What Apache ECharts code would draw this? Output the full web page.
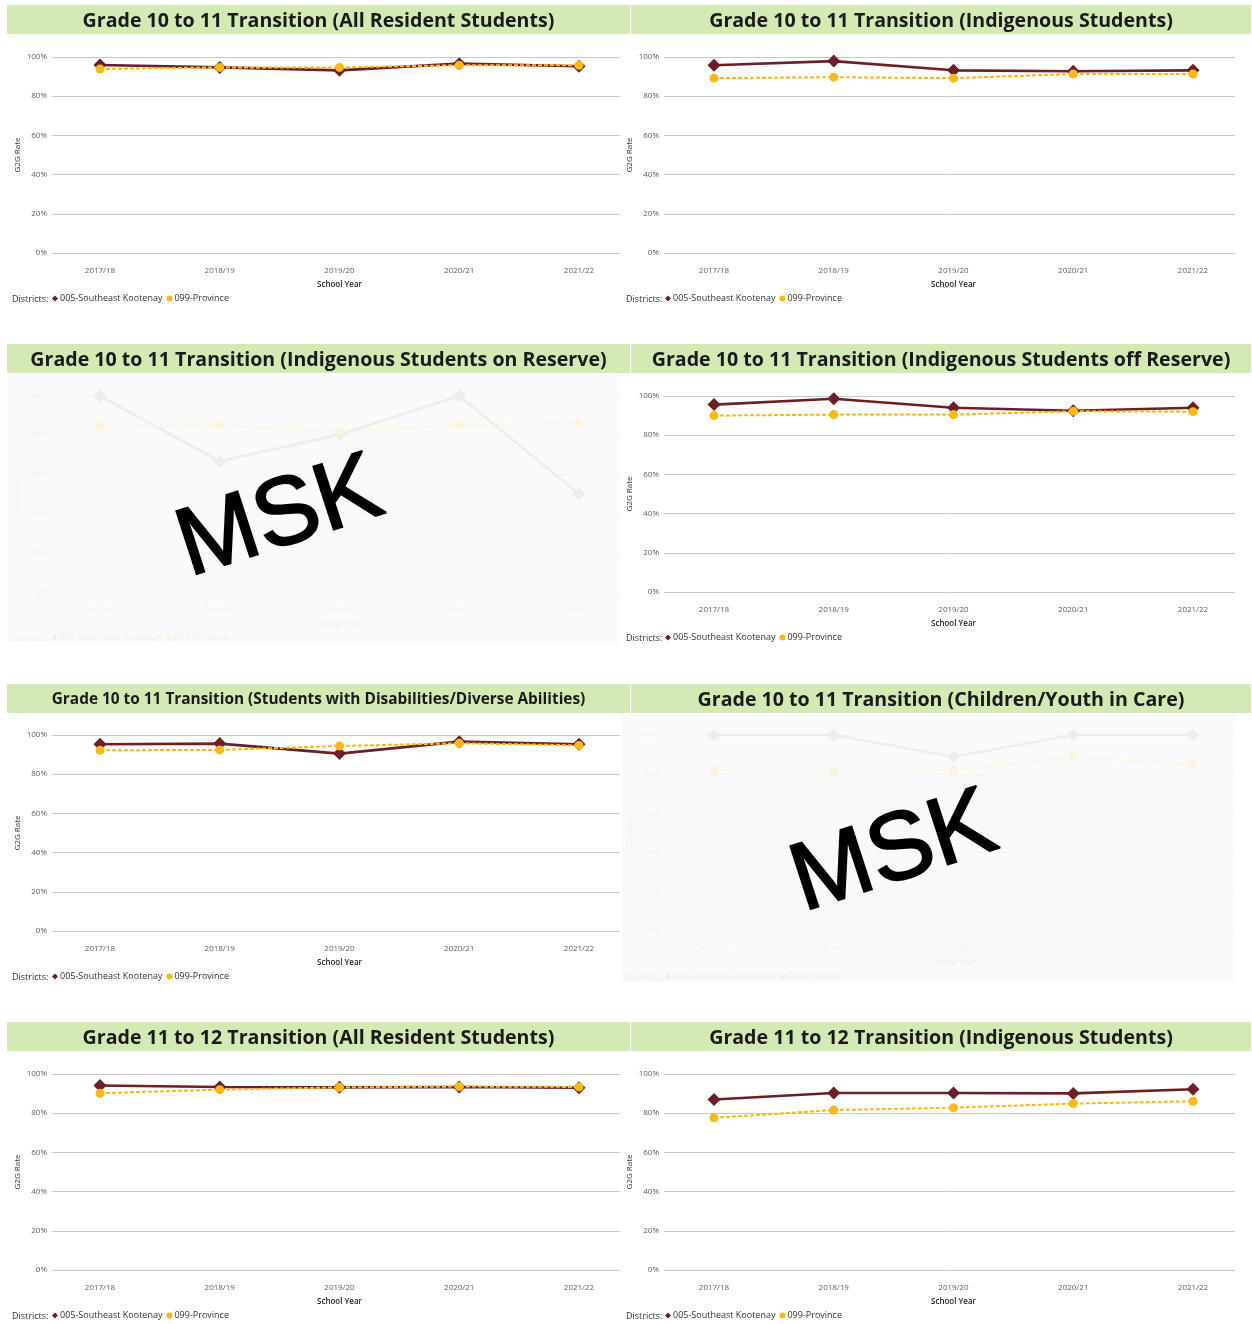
<!DOCTYPE html>
<html>
<head>
<meta charset="utf-8">
<script src="https://cdn.jsdelivr.net/npm/echarts@6/dist/echarts.min.js"></script>
<style>
html,body{margin:0;padding:0;background:#fff;}
#chart{width:1252px;height:1324px;}
</style>
</head>
<body>
<div id="chart"></div>
<script>
// ---- data ----
const years = ['2017/18', '2018/19', '2019/20', '2020/21', '2021/22'];
const yTicks = [0, 20, 40, 60, 80, 100];
const legendNames = ['005-Southeast Kootenay', '099-Province'];

const titles = [
  'Grade 10 to 11 Transition (All Resident Students)',
  'Grade 10 to 11 Transition (Indigenous Students)',
  'Grade 10 to 11 Transition (Indigenous Students on Reserve)',
  'Grade 10 to 11 Transition (Indigenous Students off Reserve)',
  'Grade 10 to 11 Transition (Students with Disabilities/Diverse Abilities)',
  'Grade 10 to 11 Transition (Children/Youth in Care)',
  'Grade 11 to 12 Transition (All Resident Students)',
  'Grade 11 to 12 Transition (Indigenous Students)'
];

const districtAll1011 = [95.9, 94.7, 93.2, 96.6, 95.3];
const provinceAll1011 = [93.9, 94.7, 94.7, 95.8, 95.8];
const districtIndig1011 = [95.8, 97.9, 93.2, 92.7, 93.2];
const provinceIndig1011 = [89.2, 89.7, 89.2, 91.3, 91.3];
const districtOnRes1011 = [100, 66.7, 80.3, 100, 50.0];
const provinceOnRes1011 = [84.3, 85.0, 81.7, 85.0, 86.3];
const districtOffRes1011 = [95.6, 98.6, 94.0, 92.5, 94.0];
const provinceOffRes1011 = [90.0, 90.5, 90.5, 92.2, 92.0];
const districtDis1011 = [95.3, 95.6, 90.5, 96.6, 95.3];
const provinceDis1011 = [92.2, 92.4, 94.4, 95.8, 94.7];
const districtCare1011 = [100, 100, 88.9, 100, 100];
const provinceCare1011 = [82.1, 81.1, 82.1, 88.9, 84.7];
const districtAll1112 = [94.1, 93.4, 93.2, 93.4, 93.0];
const provinceAll1112 = [90.2, 92.0, 93.2, 93.6, 93.4];
const districtIndig1112 = [87.0, 90.3, 90.3, 90.1, 92.2];
const provinceIndig1112 = [77.7, 81.6, 82.8, 84.9, 86.1];

const panels = [
  { title: titles[0], district: districtAll1011, province: provinceAll1011, masked: false, fs: 19.6 },
  { title: titles[1], district: districtIndig1011, province: provinceIndig1011, masked: false, fs: 19.6 },
  { title: titles[2], district: districtOnRes1011, province: provinceOnRes1011, masked: true, fs: 19.6 },
  { title: titles[3], district: districtOffRes1011, province: provinceOffRes1011, masked: false, fs: 19.6 },
  { title: titles[4], district: districtDis1011, province: provinceDis1011, masked: false, fs: 15.4 },
  { title: titles[5], district: districtCare1011, province: provinceCare1011, masked: true, fs: 19.6 },
  { title: titles[6], district: districtAll1112, province: provinceAll1112, masked: false, fs: 19.6 },
  { title: titles[7], district: districtIndig1112, province: provinceIndig1112, masked: false, fs: 19.6 }
];

// ---- layout ----
const FONT = '"Open Sans", "Noto Sans", sans-serif';
const DARK = '#6d1f27';
const GOLD = '#fdb813';
const DARK_FADE = '#eeeded';
const GOLD_FADE = '#fcf3dc';
const rowTop = [57, 396, 735, 1074];
const barTop = [5, 344, 684, 1022];
const PH = 196;

const grid = [], xAxis = [], yAxis = [], series = [], legend = [], graphic = [];

panels.forEach((p, i) => {
  const col = i % 2, row = Math.floor(i / 2);
  const top = rowTop[row];
  const gl = col ? 664 : 52, gr = col ? 1235 : 620;
  const dl = col ? 714 : 100, dr = col ? 1193 : 579;
  const fade = p.masked;
  const labelColor = fade ? '#efefef' : '#605e5c';
  const nameColor = fade ? '#efefef' : '#333333';
  const splitColor = fade ? '#f4f4f4' : '#c8c8c8';

  // title bar
  const bx = col ? 631 : 7, bw = col ? 620 : 623;
  graphic.push({
    type: 'rect', shape: { x: bx, y: barTop[row], width: bw, height: 29 },
    style: { fill: '#d4eab4' }, z: -5, silent: true
  });
  graphic.push({
    type: 'text', x: bx + bw / 2, y: barTop[row] + 16,
    style: { text: p.title, fill: '#1a1a1a', font: 'bold ' + p.fs + 'px ' + FONT,
             align: 'center', verticalAlign: 'middle' }, z: 5, silent: true
  });
  if (fade) {
    graphic.push({
      type: 'rect', shape: { x: col ? 622 : 7, y: barTop[row] + 30, width: 613, height: 268 },
      style: { fill: '#fafafa' }, z: -10, silent: true
    });
  }
  graphic.push({
    type: 'text', x: col ? 626 : 12, y: top + PH + 46,
    style: { text: 'Districts:', fill: fade ? '#efefef' : '#333', font: '9px ' + FONT,
             align: 'left', verticalAlign: 'middle' }, silent: true
  });

  const ga = grid.length;
  grid.push({ left: gl, top: top, width: gr - gl, height: PH });
  grid.push({ left: dl, top: top, width: dr - dl, height: PH });

  xAxis.push({ type: 'category', gridIndex: ga, show: false, data: years });
  yAxis.push({
    type: 'value', gridIndex: ga, min: yTicks[0], max: yTicks[yTicks.length - 1], interval: 20,
    axisLine: { show: false }, axisTick: { show: false },
    axisLabel: { formatter: '{value}%', fontSize: 8, color: labelColor, margin: 5, fontFamily: FONT },
    splitLine: { lineStyle: { color: splitColor, width: 1 } },
    name: 'G2G Rate', nameLocation: 'middle', nameGap: 30, nameRotate: 90,
    nameTextStyle: { fontSize: 8, color: nameColor, fontFamily: FONT }
  });
  xAxis.push({
    type: 'category', gridIndex: ga + 1, data: years, boundaryGap: false,
    axisLine: { show: false }, axisTick: { show: false },
    axisLabel: { fontSize: 8, color: labelColor, margin: 14, fontFamily: FONT },
    name: 'School Year', nameLocation: 'middle', nameGap: 28,
    nameTextStyle: { fontSize: 8, color: fade ? '#efefef' : '#252423', fontFamily: FONT, fontWeight: 600 }
  });
  yAxis.push({ type: 'value', gridIndex: ga + 1, min: 0, max: 100, show: false, splitLine: { show: false } });

  const dc = fade ? DARK_FADE : DARK;
  const pc = fade ? GOLD_FADE : GOLD;
  series.push({
    name: legendNames[0], type: 'line', xAxisIndex: ga + 1, yAxisIndex: ga + 1,
    data: p.district, symbol: 'diamond', symbolSize: 13, z: 3,
    lineStyle: { color: dc, width: 2.6 },
    itemStyle: { color: dc }, silent: true, animation: false
  });
  series.push({
    name: legendNames[1], type: 'line', xAxisIndex: ga + 1, yAxisIndex: ga + 1,
    data: p.province, symbol: 'circle', symbolSize: 9, z: 4,
    lineStyle: { color: pc, width: 2, type: [4, 2] },
    itemStyle: { color: pc }, silent: true, animation: false
  });

  legend.push({
    data: [
      { name: legendNames[0], icon: 'diamond', itemStyle: { color: dc } },
      { name: legendNames[1], icon: 'circle', itemStyle: { color: pc } }
    ],
    left: col ? 665 : 52, top: top + PH + 41, itemWidth: 6, itemHeight: 6, itemGap: 4,
    padding: 0, selectedMode: false,
    textStyle: { fontSize: 9, color: fade ? '#efefef' : '#333', fontFamily: FONT, padding: [0, 0, 0, -3] }
  });
});

// MSK overlays
[[196, 597], [810, 932]].forEach(([x, y]) => {
  graphic.push({
    type: 'text', x: x, y: y, rotation: 18 * Math.PI / 180,
    style: { text: 'MSK', fill: '#000', stroke: '#000', lineWidth: 2,
             font: '96px "Liberation Sans", Arial, sans-serif',
             align: 'left', verticalAlign: 'bottom' }, z: 100, silent: true
  });
});

const chart = echarts.init(document.getElementById('chart'), null, { renderer: 'canvas' });
chart.setOption({
  backgroundColor: '#ffffff',
  animation: false,
  grid, xAxis, yAxis, series, legend, graphic
});
</script>
</body>
</html>
